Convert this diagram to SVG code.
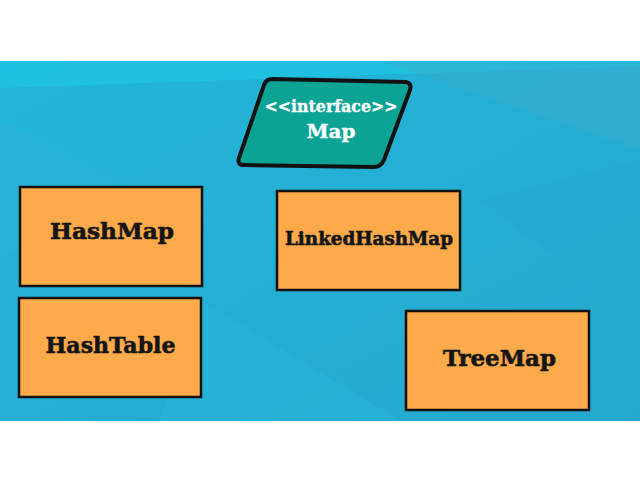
<svg xmlns="http://www.w3.org/2000/svg" width="640" height="480" viewBox="0 0 640 480">
  <style>
    .box { fill: #fcaa4a; stroke: #111; stroke-width: 2.5; }
    .lbl { font-family: "DejaVu Serif", "Liberation Serif", serif; font-weight: bold; fill: #151515; stroke: #151515; stroke-width: 0.6; text-anchor: middle; }
    .wlbl { font-family: "DejaVu Serif", "Liberation Serif", serif; font-weight: bold; fill: #ffffff; stroke: #ffffff; stroke-width: 0.4; text-anchor: middle; }
  </style>
  <defs>
    <linearGradient id="bg" x1="0" y1="0" x2="1" y2="1">
      <stop offset="0" stop-color="#22b6d9"/>
      <stop offset="1" stop-color="#26a8ce"/>
    </linearGradient>
  </defs>
  <rect x="0" y="0" width="640" height="480" fill="#ffffff"/>
  <rect x="0" y="61" width="640" height="360" fill="url(#bg)"/>
  <polygon points="0,61 640,61 640,66 0,88" fill="#1ec6e2" opacity="0.7"/>
  <polygon points="380,61 640,61 640,150" fill="#3aaecc" opacity="0.5"/>
  <polygon points="0,120 120,180 0,260" fill="#2cb4d8" opacity="0.5"/>
  <polygon points="200,300 400,420 160,421" fill="#28b5d9" opacity="0.5"/>
  <polygon points="480,200 640,160 640,320" fill="#23a8cd" opacity="0.5"/>

  <g id="map">
    <path d="M272,79 L406,82 Q412,83 410,90 L384,160 Q381,167 374,167 L244,165 Q237,165 239,158 L264,85 Q266,79 272,79 Z" fill="#0aa394" stroke="#111" stroke-width="4" stroke-linejoin="round"/>
    <text class="wlbl" x="331" y="112" font-size="17" textLength="133" lengthAdjust="spacingAndGlyphs">&lt;&lt;interface&gt;&gt;</text>
    <text class="wlbl" x="331" y="138" font-size="19" textLength="49" lengthAdjust="spacingAndGlyphs">Map</text>
  </g>

  <g id="hashmap">
    <rect class="box" x="20" y="187" width="182" height="99"/>
    <text class="lbl" x="112" y="239" font-size="22" textLength="124" lengthAdjust="spacingAndGlyphs">HashMap</text>
  </g>
  <g id="hashtable">
    <rect class="box" x="19" y="298" width="182" height="99"/>
    <text class="lbl" x="110.5" y="353" font-size="22" textLength="130" lengthAdjust="spacingAndGlyphs">HashTable</text>
  </g>
  <g id="linkedhashmap">
    <rect class="box" x="277" y="191" width="183" height="99"/>
    <text class="lbl" x="369" y="245" font-size="19" textLength="168" lengthAdjust="spacingAndGlyphs">LinkedHashMap</text>
  </g>
  <g id="treemap">
    <rect class="box" x="406" y="311" width="183" height="99"/>
    <text class="lbl" x="499.5" y="366" font-size="23" textLength="113" lengthAdjust="spacingAndGlyphs">TreeMap</text>
  </g>
  <g id="connectors"/>
</svg>
